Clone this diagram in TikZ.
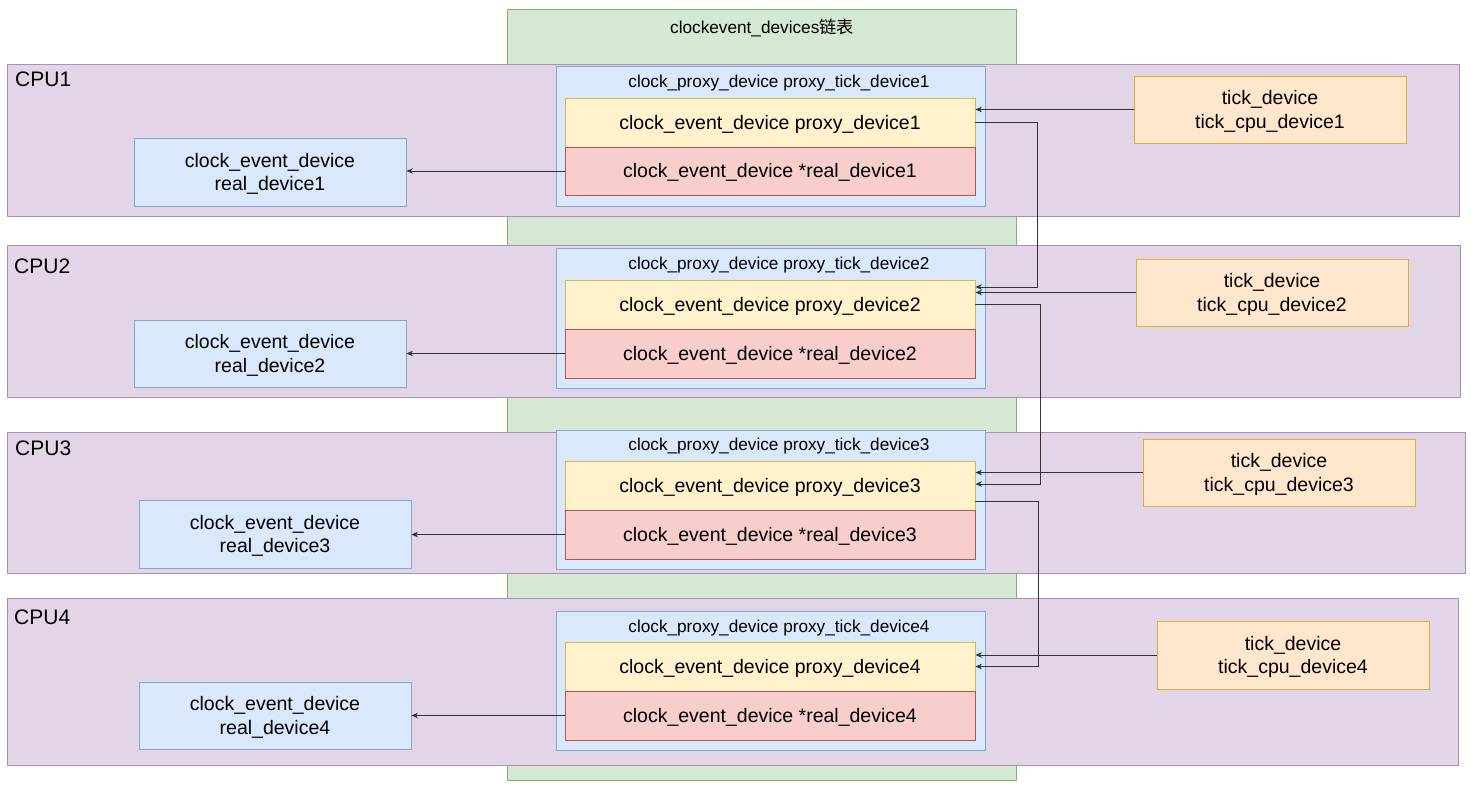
\documentclass[tikz,border=0pt]{standalone}
\usepackage{fontspec}
\setmainfont{Liberation Sans}
\newfontfamily\cjk{Noto Sans CJK SC}
\usetikzlibrary{fit,arrows.meta}
\newcommand\boxstrutx{\rule[-0.212em]{0pt}{1.117em}}
\definecolor{gfill}{HTML}{D5E8D4}\definecolor{gdraw}{HTML}{82B366}
\definecolor{pfill}{HTML}{E1D5E7}\definecolor{pdraw}{HTML}{9673A6}
\definecolor{bfill}{HTML}{DAE8FC}\definecolor{bdraw}{HTML}{6C8EBF}
\definecolor{yfill}{HTML}{FFF2CC}\definecolor{ydraw}{HTML}{D6B656}
\definecolor{rfill}{HTML}{F8CECC}\definecolor{rdraw}{HTML}{B85450}
\definecolor{ofill}{HTML}{FFE6CC}\definecolor{odraw}{HTML}{D79B00}
\definecolor{linec}{HTML}{333333}
\tikzset{
  box/.style={draw, line width=0.9pt, inner sep=0pt, align=center,
    font=\fontsize{19.5}{23.5}\selectfont,
    execute at begin node=\boxstrutx, execute at end node=\boxstrutx},
  twotxt/.style={inner sep=0pt, align=center, yshift=-2pt,
    font=\fontsize{19.5}{23.5}\selectfont},
  sz/.style 2 args={minimum width=#1pt, minimum height=#2pt},
  listbox/.style={box, fill=gfill, draw=gdraw},
  cpubox/.style={box, fill=pfill, draw=pdraw!80},
  proxybox/.style={box, fill=bfill, draw=bdraw!80},
  yelbox/.style={box, fill=yfill, draw=ydraw, sz={410}{49}},
  redbox/.style={box, fill=rfill, draw=rdraw, sz={410}{49}},
  realbox/.style={box, fill=bfill, draw=bdraw!80},
  tickbox/.style={box, fill=ofill, draw=odraw!80},
  smalltxt/.style={inner sep=0pt, font=\fontsize{17.2}{20}\selectfont},
  cputxt/.style={inner sep=0pt, anchor=west, font=\fontsize{21}{24}\selectfont},
  arr/.style={draw=linec, line width=0.8pt, -{Stealth[length=6.5pt,width=5.5pt]}}
}
\begin{document}
\begin{tikzpicture}[x=1pt,y=-1pt]
\useasboundingbox (0,0) rectangle (1471,785);
% list background
\node[listbox, fit={(507,9) (1016,780)}] (list) {};
\node[smalltxt] (listt) at (762,28) {clockevent\_devices{\cjk 链表}};
% CPU rows
\node[cpubox, fit={(7,64) (1459,216)}] (cpu1) {};
\node[cpubox, fit={(7,245) (1460,397)}] (cpu2) {};
\node[cpubox, fit={(7,432) (1465,573)}] (cpu3) {};
\node[cpubox, fit={(7,598) (1458,765)}] (cpu4) {};
\node[cputxt] (cpu1t) at (15,79) {CPU1};
\node[cputxt] (cpu2t) at (14,266) {CPU2};
\node[cputxt] (cpu3t) at (15,448) {CPU3};
\node[cputxt] (cpu4t) at (14,617) {CPU4};
% proxy tick devices
\node[proxybox, fit={(556,66) (985,206)}] (pt1) {};
\node[proxybox, fit={(556,248) (985,388)}] (pt2) {};
\node[proxybox, fit={(556,430) (985,569)}] (pt3) {};
\node[proxybox, fit={(556,611) (985,750)}] (pt4) {};
\node[smalltxt] (pt1t) at (779,83) {clock\_proxy\_device proxy\_tick\_device1};
\node[smalltxt] (pt2t) at (779,265) {clock\_proxy\_device proxy\_tick\_device2};
\node[smalltxt] (pt3t) at (779,446) {clock\_proxy\_device proxy\_tick\_device3};
\node[smalltxt] (pt4t) at (779,628) {clock\_proxy\_device proxy\_tick\_device4};
% proxy devices
\node[yelbox] (y1) at (770,122.5) {clock\_event\_device proxy\_device1};
\node[redbox, sz={410}{48}] (r1) at (770,171) {clock\_event\_device *real\_device1};
\node[yelbox] (y2) at (770,304.5) {clock\_event\_device proxy\_device2};
\node[redbox] (r2) at (770,353.5) {clock\_event\_device *real\_device2};
\node[yelbox] (y3) at (770,485.5) {clock\_event\_device proxy\_device3};
\node[redbox] (r3) at (770,534.5) {clock\_event\_device *real\_device3};
\node[yelbox] (y4) at (770,666.5) {clock\_event\_device proxy\_device4};
\node[redbox] (r4) at (770,715.5) {clock\_event\_device *real\_device4};
% real devices
\node[realbox, sz={272}{68}, label={[twotxt]center:{clock\_event\_device\\real\_device1}}] (re1) at (270,172) {};
\node[realbox, sz={272}{67}, label={[twotxt]center:{clock\_event\_device\\real\_device2}}] (re2) at (270,353.5) {};
\node[realbox, sz={272}{68}, label={[twotxt]center:{clock\_event\_device\\real\_device3}}] (re3) at (275,534) {};
\node[realbox, sz={272}{67}, label={[twotxt]center:{clock\_event\_device\\real\_device4}}] (re4) at (275,715.5) {};
% tick devices
\node[tickbox, sz={272}{67}, label={[twotxt]center:{tick\_device\\tick\_cpu\_device1}}] (tk1) at (1270,109.5) {};
\node[tickbox, sz={272}{67}, label={[twotxt]center:{tick\_device\\tick\_cpu\_device2}}] (tk2) at (1272,292.5) {};
\node[tickbox, sz={272}{67}, label={[twotxt]center:{tick\_device\\tick\_cpu\_device3}}] (tk3) at (1279,472.5) {};
\node[tickbox, sz={272}{68}, label={[twotxt]center:{tick\_device\\tick\_cpu\_device4}}] (tk4) at (1293,655) {};
% connectors
\draw[arr] (r1.west) -- (r1.west -| re1.east);
\draw[arr] (r2.west) -- (r2.west -| re2.east);
\draw[arr] (r3.west) -- (r3.west -| re3.east);
\draw[arr] (r4.west) -- (r4.west -| re4.east);
\draw[arr] (tk1.west) -- (tk1.west -| y1.east);
\draw[arr] (tk2.west) -- (tk2.west -| y2.east);
\draw[arr] (tk3.west) -- (tk3.west -| y3.east);
\draw[arr] (tk4.west) -- (tk4.west -| y4.east);
\draw[arr] (y1.east) -- ++(62,0) |- ([yshift=17.5pt]y2.east);
\draw[arr] (y2.east) -- ++(65,0) |- ([yshift=1.5pt]y3.east);
\draw[arr] ([yshift=-15.5pt]y3.east) -- ++(63,0) |- (y4.east);
\end{tikzpicture}
\end{document}
